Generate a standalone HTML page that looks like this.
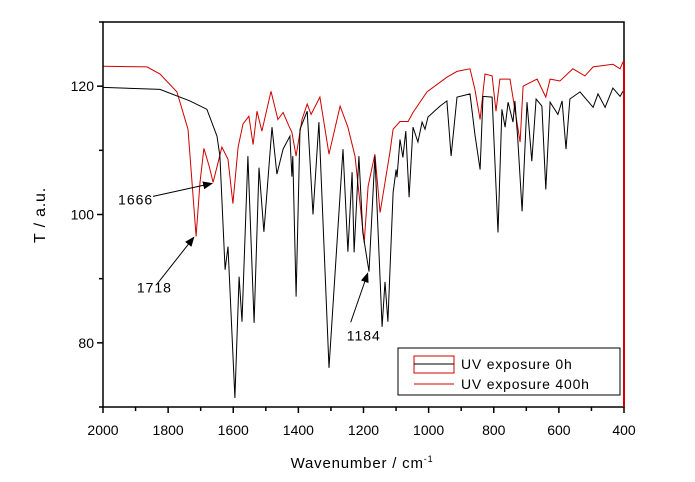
<!DOCTYPE html>
<html><head><meta charset="utf-8"><style>
body{margin:0;background:#fff;}
svg{display:block;font-family:"Liberation Sans",Arial,sans-serif;}
</style></head><body>
<svg id="chart" width="695" height="482" viewBox="0 0 695 482">
<g id="plot"></g>
</svg>
<script>
const xTicks=[2000,1800,1600,1400,1200,1000,800,600,400];
const yTicks=[80,100,120];
const wn0h=[2000,1825,1733,1681,1650,1641,1625,1616,1595,1582,1573,1555,1536,1521,1506,1481,1466,1447,1426,1420,1417,1407,1395,1373,1355,1337,1306,1263,1248,1235,1229,1214,1202,1183,1165,1143,1134,1125,1109,1100,1097,1088,1079,1070,1060,1048,1033,1020,1011,1002,965,944,931,913,873,858,842,833,805,787,775,765,756,741,735,726,713,698,683,670,652,640,627,603,590,578,566,535,495,480,458,434,412,403];
const t0h=[119.8,119.5,117.7,116.4,112.2,109.1,91.4,95,71.4,90.3,83.3,109.1,83.1,107.3,97.3,113.6,106.3,110.2,112.2,105.9,109.1,87.2,113.3,116.1,100,114.4,76.1,110.2,94.2,106.6,94.1,109.1,97.2,91.1,109.1,82.5,89.5,83.3,103.4,107,105.8,111.7,108.9,113,102.7,113.6,111.3,114.4,113.3,115.2,116.9,117.7,109.1,118.3,118.8,112.5,107,118.4,118.3,97.2,116.4,113.6,117.5,114.4,117.7,111.7,100.5,117.5,108.3,118,116.9,103.9,117.5,115.6,117.7,110.2,118,119.1,116.7,118.8,116.7,119.7,118.4,119.2];
const wn400h=[2000,1865,1825,1773,1739,1714,1702,1690,1674,1662,1635,1616,1601,1585,1570,1552,1539,1527,1512,1484,1463,1447,1429,1420,1407,1389,1373,1361,1334,1306,1272,1248,1226,1198,1186,1165,1149,1119,1109,1088,1063,1048,1005,944,913,873,858,842,827,805,793,781,750,719,710,667,640,627,597,557,520,495,434,412,403];
const t400h=[123.1,123,121.9,119.1,113.3,96.6,105,110.3,107.5,105,110.5,108.6,101.7,110.5,114.1,115.3,110.9,116.1,113,119.2,114.8,115.9,113.8,112.8,109.1,114.8,117.2,115.6,118.3,109.4,116.9,113.6,109.1,95.6,104.4,109.4,100.3,109.7,113.3,114.5,114.5,115.9,119.1,121.4,122.3,122.7,119.5,114.8,121.9,121.6,116.1,121.1,121.1,111.3,120,121.1,118.3,121.1,120.8,122.7,121.6,123,123.4,122.7,123.8];
const annLabels=["1666","1718","1184"];
const annWn=[1662,1718,1184];
const annT=[105,96.6,91];

const L=103,R=624,T=22,B=407;
const xS=v=>L+(2000-v)/1600*(R-L);
const yS=v=>B-(v-70)/60*(B-T);
const NS="http://www.w3.org/2000/svg";
const svg=document.getElementById('chart');
function mk(tag,attrs,parent){const e=document.createElementNS(NS,tag);for(const k in attrs)e.setAttribute(k,attrs[k]);(parent||svg).appendChild(e);return e;}

const defs=mk('defs',{});
const m=mk('marker',{id:'ah',markerWidth:10,markerHeight:8,refX:9,refY:4,orient:'auto',markerUnits:'userSpaceOnUse'},defs);
mk('path',{d:'M0,0 L10,4 L0,8 Z',fill:'#000'},m);

function line(wn,t,color,name){
  let d=wn.map((w,i)=>(i?'L':'M')+xS(w).toFixed(1)+','+yS(t[i]).toFixed(1)).join(' ');
  const p=mk('path',{d:d,fill:'none',stroke:color,'stroke-width':1});
  
  
}
line(wn400h,t400h,'#d00000','series-uv-400h');
line(wn0h,t0h,'#000','series-uv-0h');

const fr=mk('rect',{x:L,y:T,width:R-L,height:B-T,fill:'none',stroke:'#000','stroke-width':1.5});


const rs=mk('line',{x1:R,y1:yS(123.8),x2:R,y2:B,stroke:'#d00000','stroke-width':2});



for(let v=2000;v>=400;v-=100){
  const major=(v%200===0);
  mk('line',{x1:xS(v),y1:B,x2:xS(v),y2:B+(major?6:4),stroke:'#000','stroke-width':1.5});
}
xTicks.forEach(v=>{
  const t=mk('text',{x:xS(v),y:B+28,'text-anchor':'middle','font-size':14});
  t.textContent=v;
  
  
});
for(let v=70;v<=130;v+=10){
  const major=(v===80||v===100||v===120);
  mk('line',{x1:L,y1:yS(v),x2:L-(major?6:4),y2:yS(v),stroke:'#000','stroke-width':1.5});
}
yTicks.forEach(v=>{
  const t=mk('text',{x:L-9,y:yS(v)+5,'text-anchor':'end','font-size':14});
  t.textContent=v;
  
  
});

const offs=[[-95,22,-60,14],[-58,56,-38,48],[-22,68,-18,50]];
annLabels.forEach((lab,i)=>{
  const x=xS(annWn[i]),y=yS(annT[i]);
  const o=offs[i];
  const a=mk('line',{x1:x+o[2],y1:y+o[3],x2:x-1,y2:y+1,stroke:'#000','stroke-width':1,'marker-end':'url(#ah)'});
  
  
  const t=mk('text',{x:x+o[0],y:y+o[1],'font-size':14,'letter-spacing':'1'});
  t.textContent=lab;
  
  
});
</script>
<svg style="position:absolute;left:0;top:0" width="695" height="482">
<text x="362" y="468" text-anchor="middle" font-size="15" font-family="Liberation Sans,sans-serif" letter-spacing="0.8">Wavenumber / cm<tspan font-size="9" dy="-6">-1</tspan></text>
<text transform="translate(45,215) rotate(-90)" text-anchor="middle" font-size="16" font-family="Liberation Sans,sans-serif" letter-spacing="0.8">T / a.u.</text>
<g>
<rect x="398" y="348" width="222" height="47" fill="#fff" stroke="#000" stroke-width="1"/>
<rect x="414" y="356" width="40" height="17" fill="none" stroke="#d00000" stroke-width="1"/>
<line x1="414" y1="364" x2="454" y2="364" stroke="#000" stroke-width="1"/>
<text x="461" y="369" font-size="14" font-family="Liberation Sans,sans-serif" letter-spacing="0.8">UV exposure 0h</text>
<line x1="414" y1="384" x2="454" y2="384" stroke="#d00000" stroke-width="1"/>
<text x="461" y="389" font-size="14" font-family="Liberation Sans,sans-serif" letter-spacing="0.8">UV exposure 400h</text>
</g>
</svg>
</body></html>
